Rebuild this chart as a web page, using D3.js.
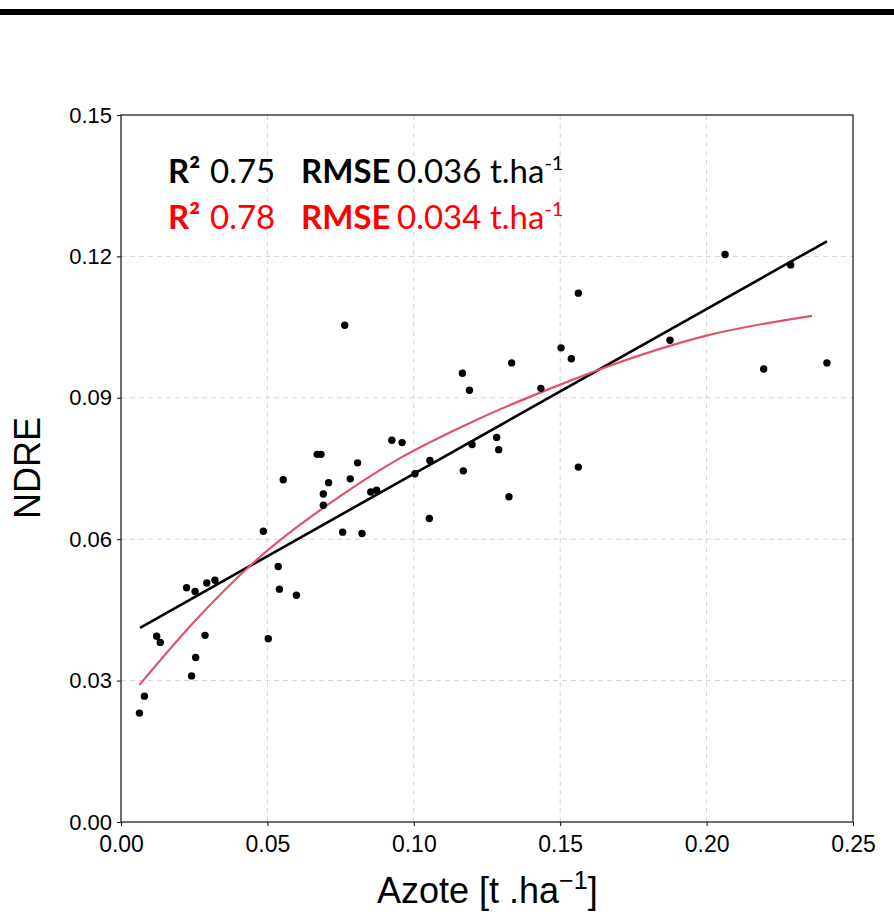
<!DOCTYPE html>
<html>
<head>
<meta charset="utf-8">
<script src="https://cdn.jsdelivr.net/npm/d3@7/dist/d3.min.js"></script>
<style>
  body { margin: 0; background: #fff; }
  svg { display: block; }
</style>
</head>
<body>
<div id="grafico"></div>
<script>
// valeurs
const azote = [0.0063, 0.0080, 0.0122, 0.0134, 0.0224, 0.0253, 0.0293, 0.0321, 0.0241, 0.0255,
  0.0287, 0.0486, 0.0503, 0.0537, 0.0541, 0.0599, 0.0554, 0.0670, 0.0683, 0.0709,
  0.0691, 0.0691, 0.0757, 0.0823, 0.0783, 0.0808, 0.0853, 0.0873, 0.0925, 0.0960,
  0.1004, 0.1055, 0.1053, 0.1169, 0.1166, 0.1190, 0.1199, 0.1283, 0.1290, 0.1334,
  0.1434, 0.1503, 0.1538, 0.1562, 0.1562, 0.1875, 0.2063, 0.2287, 0.2195, 0.2411,
  0.1325, 0.0764];
const ndre = [0.0231, 0.0267, 0.0394, 0.0381, 0.0497, 0.0489, 0.0507, 0.0513, 0.0310, 0.0349,
  0.0396, 0.0617, 0.0389, 0.0542, 0.0494, 0.0481, 0.0726, 0.0780, 0.0780, 0.0720,
  0.0696, 0.0672, 0.0615, 0.0612, 0.0728, 0.0762, 0.0700, 0.0704, 0.0810, 0.0805,
  0.0739, 0.0767, 0.0644, 0.0745, 0.0952, 0.0916, 0.0801, 0.0816, 0.0790, 0.0974,
  0.0920, 0.1006, 0.0983, 0.1122, 0.0753, 0.1022, 0.1204, 0.1182, 0.0961, 0.0974,
  0.0690, 0.1054];

// droite de régression (extrémités)
const lineaireX = [0.0065, 0.2411];
const lineaireY = [0.0412, 0.1232];

// courbe non linéaire (points lus)
const courbeX = [0.0063, 0.025, 0.047, 0.075, 0.0953, 0.121, 0.15, 0.166, 0.2, 0.236];
const courbeY = [0.0291, 0.0425, 0.0560, 0.0692, 0.0772, 0.0852, 0.0928, 0.0966, 0.1032, 0.1074];

const ticksX = [0, 0.05, 0.10, 0.15, 0.20, 0.25];
const ticksY = [0, 0.03, 0.06, 0.09, 0.12, 0.15];

const stats = [
  { r2: "0.75", rmse: "0.036", couleur: "#000000" },
  { r2: "0.78", rmse: "0.034", couleur: "#ff0000" }
];

const width = 894, height = 923;
const marge = { left: 121, right: 853, top: 115, bottom: 822 };

const svg = d3.select("#grafico").append("svg")
  .attr("width", width)
  .attr("height", height);

// barre noire en haut
svg.append("rect").attr("x", 0).attr("y", 9).attr("width", width).attr("height", 6).attr("fill", "#000");

const x = d3.scaleLinear().domain([0, 0.25]).range([marge.left, marge.right]);
const y = d3.scaleLinear().domain([0, 0.15]).range([marge.bottom, marge.top]);

// grille
const grille = svg.append("g").attr("stroke", "#d6d6d6").attr("stroke-dasharray", "5,4").attr("stroke-width", 1);
grille.selectAll(".gx").data(ticksX.slice(1, -1)).join("line")
  .attr("x1", d => x(d)).attr("x2", d => x(d))
  .attr("y1", marge.top).attr("y2", marge.bottom);
grille.selectAll(".gy").data(ticksY.slice(1, -1)).join("line")
  .attr("y1", d => y(d)).attr("y2", d => y(d))
  .attr("x1", marge.left).attr("x2", marge.right);

// axes
const axeX = svg.append("g")
  .attr("transform", `translate(0,${marge.bottom})`)
  .call(d3.axisBottom(x).tickValues(ticksX).tickFormat(d3.format(".2f")).tickSize(4).tickPadding(10));
axeX.select(".domain").remove();
axeX.selectAll("text").style("font-family", "'Liberation Sans', Arial, sans-serif").style("font-size", "23px").attr("fill", "#000");

const axeY = svg.append("g")
  .attr("transform", `translate(${marge.left},0)`)
  .call(d3.axisLeft(y).tickValues(ticksY).tickFormat(d3.format(".2f")).tickSize(4).tickPadding(5));
axeY.select(".domain").remove();
axeY.selectAll("text").style("font-family", "'Liberation Sans', Arial, sans-serif").style("font-size", "22px").attr("fill", "#000");

// cadre
svg.append("rect")
  .attr("x", marge.left).attr("y", marge.top)
  .attr("width", marge.right - marge.left).attr("height", marge.bottom - marge.top)
  .attr("fill", "none").attr("stroke", "#222").attr("stroke-width", 1.3);

// droite noire
svg.append("line")
  .attr("x1", x(lineaireX[0])).attr("y1", y(lineaireY[0]))
  .attr("x2", x(lineaireX[1])).attr("y2", y(lineaireY[1]))
  .attr("stroke", "#000").attr("stroke-width", 2.6);

// courbe rouge
const ligne = d3.line().x(d => x(d[0])).y(d => y(d[1])).curve(d3.curveMonotoneX);
svg.append("path")
  .datum(courbeX.map((v, i) => [v, courbeY[i]]))
  .attr("d", ligne)
  .attr("fill", "none").attr("stroke", "#DF536B").attr("stroke-width", 2.2);

// points
svg.append("g").selectAll("circle")
  .data(azote.map((v, i) => [v, ndre[i]]))
  .join("circle")
  .attr("cx", d => x(d[0])).attr("cy", d => y(d[1]))
  .attr("r", 3.7).attr("fill", "#000");

// annotations R² / RMSE
const police = "Lato, 'Open Sans', sans-serif";
stats.forEach((s, i) => {
  const t = svg.append("text")
    .attr("y", 183 + i * 46)
    .attr("fill", s.couleur)
    .style("font-family", police)
    .style("font-size", "33px");
  t.append("tspan").attr("x", 168).attr("font-weight", "bold").text("R²");
  t.append("tspan").attr("x", 210).text(s.r2);
  t.append("tspan").attr("x", 301).attr("font-weight", "bold").text("RMSE");
  t.append("tspan").attr("x", 397).text(s.rmse);
  t.append("tspan").attr("x", 490).text("t.ha");
  t.append("tspan").attr("dy", -13).style("font-size", "20px").text("-1");
});

// titres des axes
svg.append("text")
  .attr("transform", "translate(40,468) rotate(-90)")
  .attr("text-anchor", "middle")
  .style("font-family", "'Liberation Sans', Arial, sans-serif")
  .style("font-size", "36px")
  .text("NDRE");

const titreX = svg.append("text")
  .attr("x", 377).attr("y", 903)
  .style("font-family", "'Liberation Sans', Arial, sans-serif")
  .style("font-size", "36px");
titreX.append("tspan").text("Azote [t .ha");
titreX.append("tspan").attr("dy", -14).style("font-size", "25px").text("\u22121");
titreX.append("tspan").attr("dy", 14).text("]");
</script>
</body>
</html>
